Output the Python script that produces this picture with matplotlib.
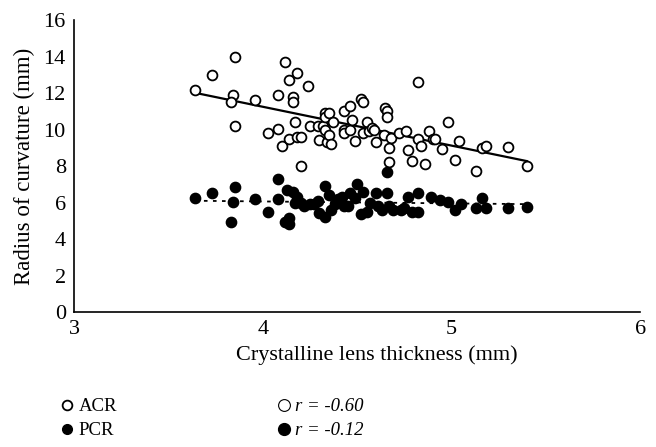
import numpy as np
import matplotlib
matplotlib.use("Agg")
import matplotlib.pyplot as plt
from matplotlib.lines import Line2D

plt.rcParams["font.family"] = ["Liberation Serif", "DejaVu Serif"]

# anterior radius of curvature (ACR) vs lens thickness
acr_x = [3.64, 3.73, 3.85, 3.84, 3.83, 3.85, 3.96, 4.03, 4.08, 4.08, 4.10, 4.12, 4.14, 4.14,
         4.16, 4.16, 4.17, 4.18, 4.18, 4.20, 4.20, 4.24, 4.25, 4.29, 4.30, 4.32, 4.33, 4.33,
         4.33, 4.34, 4.35, 4.35, 4.36, 4.37, 4.43, 4.43, 4.43, 4.46, 4.46, 4.47, 4.49, 4.52,
         4.53, 4.53, 4.55, 4.56, 4.58, 4.59, 4.60, 4.65, 4.66, 4.66, 4.64, 4.68, 4.67, 4.67,
         4.72, 4.76, 4.77, 4.82, 4.82, 4.79, 4.84, 4.86, 4.88, 4.90, 4.91, 4.95, 4.98, 5.02,
         5.04, 5.13, 5.16, 5.18, 5.30, 5.40]
acr_y = [12.15, 13.0, 14.0, 11.9, 11.5, 10.2, 11.6, 9.8, 10.05, 11.9, 9.1, 13.7, 12.7, 9.5,
         11.8, 11.5, 10.4, 13.1, 9.6, 9.6, 8.0, 12.4, 10.2, 10.2, 9.45, 10.2, 10.9, 10.7,
         10.0, 9.3, 10.9, 9.7, 9.2, 10.4, 11.0, 10.0, 9.8, 11.3, 10.0, 10.5, 9.35, 11.65,
         11.5, 9.8, 10.4, 9.9, 10.1, 10.0, 9.3, 11.2, 11.0, 10.7, 9.7, 9.55, 9.0, 8.2,
         9.8, 9.9, 8.9, 12.6, 9.5, 8.3, 9.1, 8.1, 9.9, 9.5, 9.5, 8.95, 10.4, 8.35,
         9.4, 7.75, 9.0, 9.1, 9.07, 8.0]

# posterior radius of curvature (PCR) vs lens thickness
pcr_x = [3.64, 3.73, 3.85, 3.84, 3.83, 3.96, 4.03, 4.08, 4.08, 4.14, 4.14, 4.12, 4.17,
         4.13, 4.16, 4.18, 4.20, 4.22, 4.25, 4.27, 4.29, 4.30, 4.33, 4.33, 4.35, 4.36,
         4.38, 4.40, 4.42, 4.43, 4.46, 4.45, 4.50, 4.53, 4.49, 4.52, 4.55, 4.57, 4.60,
         4.61, 4.63, 4.66, 4.66, 4.67, 4.69, 4.73, 4.75, 4.77, 4.82, 4.79, 4.82, 4.89,
         4.94, 4.98, 5.02, 5.05, 5.13, 5.16, 5.18, 5.30, 5.40]
pcr_y = [6.26, 6.5, 6.87, 6.05, 4.95, 6.2, 5.5, 7.3, 6.2, 5.15, 4.8, 4.95, 6.0,
         6.7, 6.6, 6.3, 6.0, 5.8, 5.9, 5.9, 6.1, 5.4, 5.2, 6.9, 6.4, 5.6,
         5.9, 6.2, 6.3, 5.8, 6.5, 5.8, 7.0, 6.6, 6.25, 5.35, 5.5, 6.0, 6.55,
         5.8, 5.6, 6.55, 7.7, 5.8, 5.6, 5.6, 5.7, 6.3, 6.55, 5.5, 5.5, 6.3,
         6.15, 6.05, 5.6, 5.9, 5.7, 6.26, 5.7, 5.7, 5.77]

series_names = ["ACR", "PCR"]
r_labels = ["r = -0.60", "r = -0.12"]

fig = plt.figure(figsize=(6.56, 4.47), dpi=100)
ax = fig.add_axes([0.113, 0.302, 0.863, 0.653])

ax.scatter(acr_x, acr_y, s=50, facecolors="white", edgecolors="black", linewidths=1.3, zorder=3)
ax.scatter(pcr_x, pcr_y, s=55, facecolors="black", edgecolors="black", linewidths=1.0, zorder=3)

# linear trend lines
xs = np.array([min(acr_x), max(acr_x)])
ka = np.polyfit(acr_x, acr_y, 1)
ax.plot(xs, np.polyval(ka, xs), color="black", lw=1.6, zorder=2)
kp = np.polyfit(pcr_x, pcr_y, 1)
ax.plot(xs, np.polyval(kp, xs), color="black", lw=1.3, ls=(0, (2, 3)), zorder=2)

ax.set_xlim(3, 6)
ax.set_ylim(0, 16)
ax.set_xticks([3, 4, 5, 6])
ax.set_yticks(range(0, 17, 2))
ax.tick_params(length=0, labelsize=16, pad=6)
for s in ["top", "right"]:
    ax.spines[s].set_visible(False)
for s in ["left", "bottom"]:
    ax.spines[s].set_linewidth(1.2)
ax.set_xlabel("Crystalline lens thickness (mm)", fontsize=16, labelpad=8)
ax.xaxis.set_label_coords(0.534, -0.115)
ax.set_ylabel("Radius of curvature (mm)", fontsize=16.5, labelpad=6)

h1 = [Line2D([], [], ls="", marker="o", ms=7, mfc="white", mec="black", mew=1.3),
      Line2D([], [], ls="", marker="o", ms=7, mfc="black", mec="black")]
fig.legend(h1, series_names, loc="upper left", bbox_to_anchor=(0.08, 0.13),
           frameon=False, fontsize=13.5, handlelength=0.6, handletextpad=0.3,
           labelspacing=0.35, borderpad=0)
h2 = [Line2D([], [], ls="", marker="o", ms=8.5, mfc="white", mec="black", mew=0.8),
      Line2D([], [], ls="", marker="o", ms=8.5, mfc="black", mec="black")]
fig.legend(h2, r_labels, loc="upper left", bbox_to_anchor=(0.41, 0.13),
           frameon=False, handlelength=0.6, handletextpad=0.3,
           labelspacing=0.35, borderpad=0, prop={"style": "italic", "size": 13.5})

fig.savefig("out.png", dpi=100)
